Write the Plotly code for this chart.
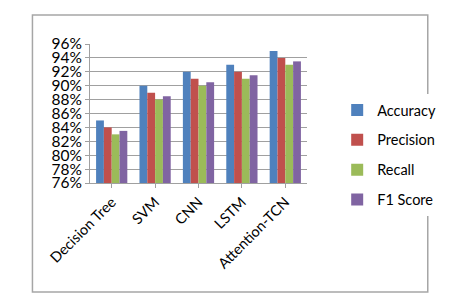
import plotly.graph_objects as go

categories = ["Decision Tree", "SVM", "CNN", "LSTM", "Attention-TCN"]
accuracy = [85, 90, 92, 93, 95]
precision = [84, 89, 91, 92, 94]
recall = [83, 88, 90, 91, 93]
f1_score = [83.5, 88.5, 90.5, 91.5, 93.5]
series_names = ["Accuracy", "Precision", "Recall", "F1 Score"]
colors = ["#4F81BD", "#C0504D", "#9BBB59", "#8064A2"]
y_ticks = list(range(76, 97, 2))

W, H = 453, 302
L, R, T, B = 90, 133, 44, 119
pw, ph = W - L - R, H - T - B

fig = go.Figure()
for name, vals, c in zip(series_names, [accuracy, precision, recall, f1_score], colors):
    fig.add_trace(go.Bar(
        x=categories, y=[v - 76 for v in vals], base=76, name=name,
        marker=dict(color=c, line=dict(color=c, width=0)),
        legendgroup=name,
    ))

# outer border
bx0, by0, bx1, by1 = 29, 15, 448, 292
fig.add_shape(type="rect", xref="paper", yref="paper",
              x0=(bx0 - L) / pw, x1=(bx1 - L) / pw,
              y0=(H - B - by1) / ph, y1=(H - B - by0) / ph,
              line=dict(color="#A6A6A6", width=1.5), layer="below")

fig.update_layout(
    width=W, height=H,
    margin=dict(l=L, r=R, t=T, b=B),
    paper_bgcolor="white", plot_bgcolor="white",
    barmode="group", bargap=0.28, bargroupgap=0.0,
    font=dict(family="Lato, Open Sans, sans-serif", size=13, color="black"),
    showlegend=True,
    legend=dict(x=(352 - L) / pw, y=(H - B - 94) / ph, xanchor="left", yanchor="top",
                traceorder="grouped", tracegroupgap=8,
                font=dict(size=14.5), itemwidth=30),
    xaxis=dict(showline=True, linecolor="#A0A0A0", ticks="outside", ticklen=4,
               tickcolor="#A0A0A0", tickangle=-45, tickfont=dict(size=14.5),
               showgrid=False),
    yaxis=dict(range=[76, 96], tickvals=y_ticks, ticktext=[f"{t}%" for t in y_ticks],
               showline=True, linecolor="#A0A0A0", ticks="outside", ticklen=4,
               tickcolor="#A0A0A0", showgrid=True, gridcolor="#A0A0A0", gridwidth=1,
               tickfont=dict(size=15.5)),
)

fig.write_html("out.html")
